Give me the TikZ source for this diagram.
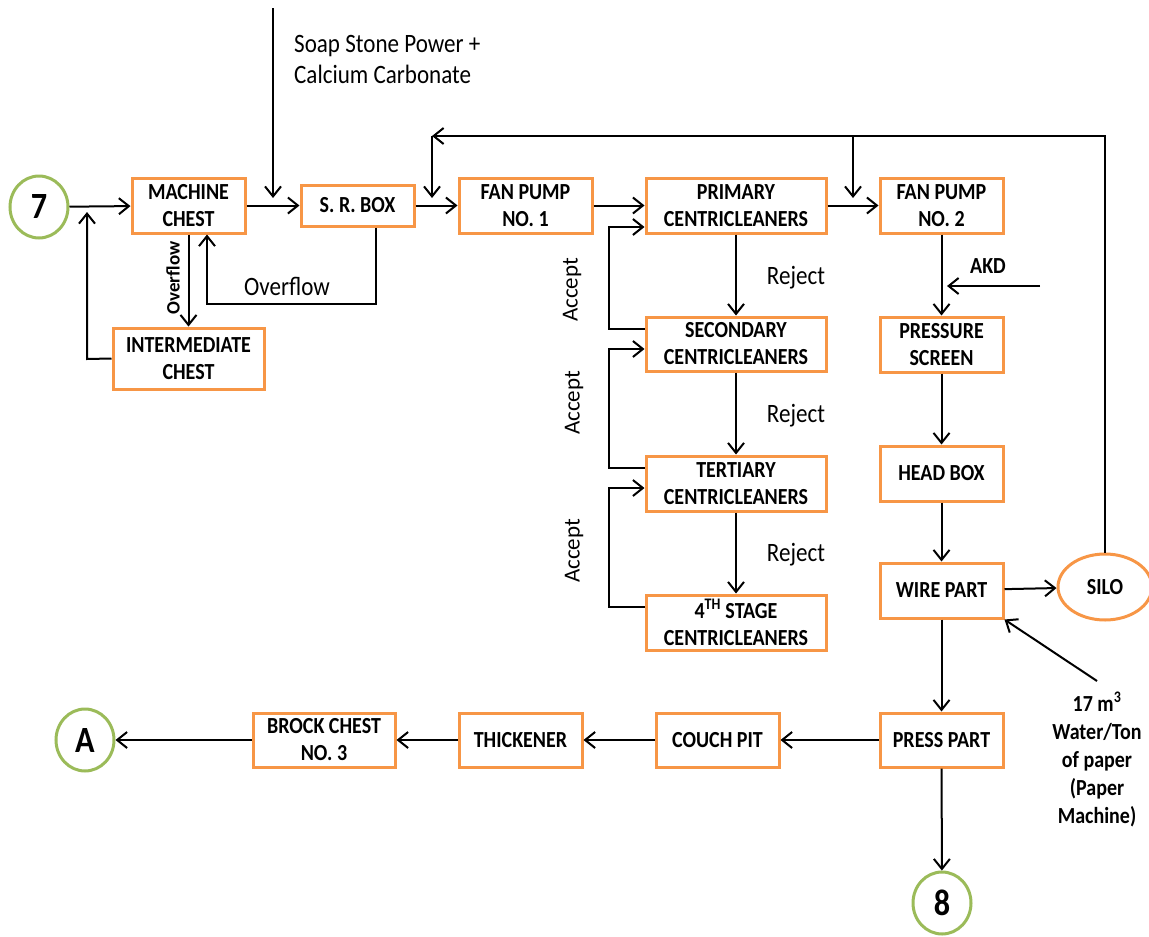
\documentclass[tikz,border=0pt]{standalone}
\usepackage{fontspec}
\setmainfont{Carlito}
% narrow-set face for horizontal text
\newfontfamily\narrowface{Carlito}[FakeStretch=0.87]
\usetikzlibrary{arrows.meta,shapes.geometric}
\definecolor{boxorange}{HTML}{F79646}
\definecolor{circgreen}{HTML}{9BBB59}
\tikzset{
  pbox/.style={draw=boxorange, line width=3pt, fill=white, align=center, inner sep=0pt,
    font=\narrowface\fontsize{23}{27}\selectfont\bfseries},
  conn/.style={circle, draw=circgreen, line width=3pt, fill=white, inner sep=0pt,
    font=\narrowface\fontsize{37}{40}\selectfont\bfseries},
  flow/.style={line width=2pt, -{Straight Barb[length=10pt,width=16pt,line width=2pt]}},
  lbl/.style={font=\narrowface\fontsize{26.5}{31}\selectfont, inner sep=0pt},
  vlbl/.style={font=\fontsize{23}{31}\selectfont, inner sep=0pt, rotate=90},
  blbl/.style={font=\narrowface\fontsize{23}{28}\selectfont\bfseries, inner sep=0pt, align=center},
}
\begin{document}
\begin{tikzpicture}[x=1pt,y=-1pt]
\useasboundingbox (0,0) rectangle (1149,937);

% connectors (circles)
\node[conn, ellipse, minimum width=58pt, minimum height=62pt] (c7) at (39,207) {7};
\node[conn, ellipse, minimum width=58pt, minimum height=62pt] (cA) at (85,740) {A};
\node[conn, ellipse, minimum width=58pt, minimum height=62pt] (c8) at (942,903) {8};

% process boxes
\node[pbox, minimum width=113pt, minimum height=55pt] (mc) at (188.5,205.5) {MACHINE\\CHEST};
\node[pbox, minimum width=113pt, minimum height=41pt] (sr) at (357.5,205.5) {S. R. BOX};
\node[pbox, minimum width=151pt, minimum height=61pt] (ic) at (188.5,358.5) {INTERMEDIATE\\CHEST};
\node[pbox, minimum width=133pt, minimum height=55pt] (fp1) at (525.5,205.5) {FAN PUMP\\NO. 1};
\node[pbox, minimum width=180pt, minimum height=55pt] (pc) at (736,205.5) {PRIMARY\\CENTRICLEANERS};
\node[pbox, minimum width=180pt, minimum height=54pt] (sc) at (736,344) {SECONDARY\\CENTRICLEANERS};
\node[pbox, minimum width=180pt, minimum height=55pt] (tc) at (736,483.5) {TERTIARY\\CENTRICLEANERS};
\node[pbox, minimum width=180pt, minimum height=55pt] (fc) at (736,622.5) {4\textsuperscript{TH} STAGE\\CENTRICLEANERS};
\node[pbox, minimum width=123pt, minimum height=55pt] (fp2) at (941.5,205.5) {FAN PUMP\\NO. 2};
\node[pbox, minimum width=123pt, minimum height=55pt] (ps) at (941.5,344.5) {PRESSURE\\SCREEN};
\node[pbox, minimum width=123pt, minimum height=55pt] (hb) at (941.5,473.5) {HEAD BOX};
\node[pbox, minimum width=123pt, minimum height=55pt] (wp) at (941.5,590.5) {WIRE PART};
\node[pbox, minimum width=123pt, minimum height=54pt] (pp) at (941.5,740) {PRESS PART};
\node[pbox, minimum width=123pt, minimum height=54pt] (cp) at (717.5,740) {COUCH PIT};
\node[pbox, minimum width=123pt, minimum height=54pt] (th) at (520.5,740) {THICKENER};
\node[pbox, minimum width=142pt, minimum height=54pt] (bc) at (324,740) {BROCK CHEST\\NO. 3};
\node[pbox, ellipse, minimum width=94pt, minimum height=66pt] (silo) at (1105,587) {SILO};

% free ends of feed lines
\coordinate (soapTop) at (273,8);
\coordinate (soapEnd) at (273,198);
\coordinate (retL) at (432,136);
\coordinate (retM) at (853,136);
\coordinate (retR) at (1105,136);
\coordinate (akdStart) at (1040,286);
\coordinate (akdEnd) at (947,286);
\coordinate (waterStart) at (1097,681);

% main line
\draw[flow] (c7) -- (mc);
\draw[flow] (mc) -- (sr);
\draw[flow] (sr) -- (fp1);
\draw[flow] (fp1) -- (pc);
\draw[flow] (pc) -- (fp2);
\draw[flow] (fp2) -- (ps);
\draw[flow] (ps) -- (hb);
\draw[flow] (hb) -- (wp);
\draw[flow] (wp) -- (silo);
\draw[flow] (wp) -- (pp);
\draw[flow] (pp) -- (c8);
\draw[flow] (pp) -- (cp);
\draw[flow] (cp) -- (th);
\draw[flow] (th) -- (bc);
\draw[flow] (bc) -- (cA);

% chests and S.R. box overflow
\draw[flow] (mc.south) -- (ic.north);
\draw[flow] (ic.west) -- (87,359) -- (87,212);
\draw[flow] (sr.south -| 376,0) -- (376,304) -- (207,304) -- (mc.south -| 207,0);
\draw[flow] (soapTop) -- (soapEnd);

% white water return from silo
\draw[flow] (silo.north) -- (retR) -- (retL);
\draw[flow] (retL) -- (432,198);
\draw[flow] (retM) -- (853,198);

% centricleaner cascade
\draw[flow] (pc.south) -- (sc.north);
\draw[flow] (sc.south) -- (tc.north);
\draw[flow] (tc.south) -- (fc.north);
\draw[flow] (sc.west |- 0,329) -- (609,329) -- (609,227) -- (pc.west |- 0,227);
\draw[flow] (tc.west |- 0,468) -- (609,468) -- (609,349) -- (sc.west |- 0,349);
\draw[flow] (fc.west |- 0,607) -- (609,607) -- (609,488) -- (tc.west |- 0,488);

% additives and fresh water
\draw[flow] (akdStart) -- (akdEnd);
\draw[flow] (waterStart) -- (wp.south east);

% labels
\node[lbl, anchor=west, align=left] (soapLbl) at (294,59.5) {Soap Stone Power +\\Calcium Carbonate};
\node[vlbl, font=\fontsize{19}{24}\selectfont\bfseries] (ovf1) at (173,278) {Overflow};
\node[lbl] (ovf2) at (287,286) {Overflow};
\node[lbl] (rej1) at (796,278) {Reject};
\node[lbl] (rej2) at (796,416) {Reject};
\node[lbl] (rej3) at (796,555) {Reject};
\node[vlbl] (acc1) at (572,290) {Accept};
\node[vlbl] (acc2) at (574,403) {Accept};
\node[vlbl] (acc3) at (574,551) {Accept};
\node[blbl] (akd) at (988,266) {AKD};
\node[blbl] (water) at (1097,759) {17 m\textsuperscript{3}\\Water/Ton\\of paper\\(Paper\\Machine)};
\end{tikzpicture}
\end{document}
